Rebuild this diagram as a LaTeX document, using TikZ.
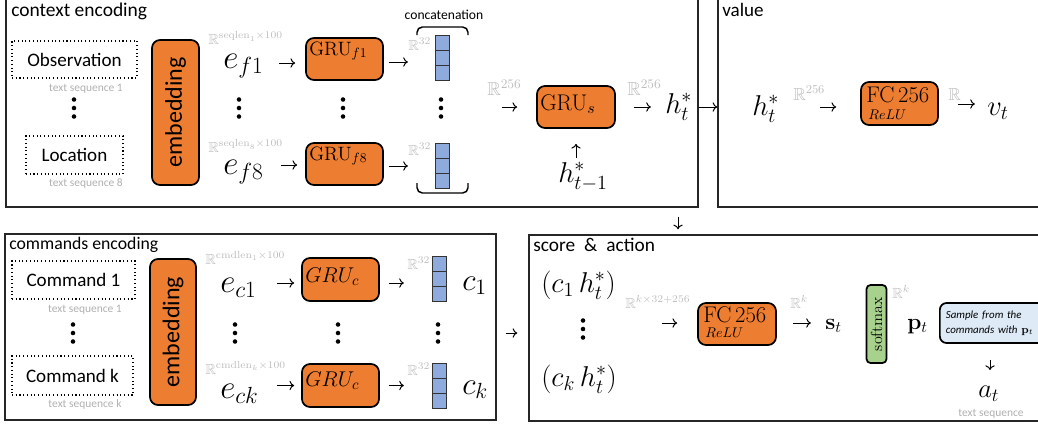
\RequirePackage{fix-cm}
\documentclass[tikz,border=0pt]{standalone}
\usepackage[no-math]{fontspec}
\usepackage{amsmath,amssymb}
\newfontfamily\cali{Carlito}
\usetikzlibrary{arrows.meta}
\definecolor{orng}{HTML}{ED7D31}
\definecolor{cellblue}{HTML}{8FAADC}
\definecolor{smgreen}{HTML}{A9D18E}
\definecolor{sampblue}{HTML}{DEEBF7}
\definecolor{lgray}{HTML}{BDBDBD}
\definecolor{tgray}{HTML}{B0B0B0}
\begin{document}
\begin{tikzpicture}[x=0.75pt,y=-0.75pt,
  panel/.style={draw=black!85, line width=1.1pt, inner sep=0pt},
  ttl/.style={anchor=base west, inner sep=0pt, font=\cali\fontsize{14.5}{17}\selectfont},
  dotbox/.style={draw, dotted, line width=0.8pt, inner sep=0pt, font=\cali\fontsize{14.3}{17}\selectfont},
  seqlab/.style={anchor=base, inner sep=0pt, text=tgray, font=\cali\fontsize{8.6}{10}\selectfont},
  orbox/.style={draw, fill=orng, rounded corners=6pt, line width=1.3pt, inner sep=0pt},
  embtxt/.style={font=\cali\fontsize{18}{21}\selectfont},
  mth/.style={anchor=base west, inner sep=0pt, font=\fontsize{21.5}{26}\selectfont},
  emth/.style={anchor=base west, inner sep=0pt, font=\fontsize{25}{29}\selectfont},
  glab/.style={anchor=base west, inner sep=0pt, font=\fontsize{14.5}{17}\selectfont},
  rr/.style={anchor=base west, inner sep=0pt, text=lgray, font=\fontsize{11}{13}\selectfont},
  rrb/.style={anchor=base west, inner sep=0pt, text=lgray, font=\fontsize{14}{16}\selectfont},
  cell/.style={draw=black!80, fill=cellblue, line width=0.7pt, minimum width=10.5pt, minimum height=11.25pt, inner sep=0pt},
  arr/.style={-{To[length=3.5pt,width=7pt]}, line width=0.75pt},
  brk/.style={line width=1.1pt, rounded corners=4pt}
]
\useasboundingbox (0,0) rectangle (1038,426);
\clip (0,0) rectangle (1038,426);

% ---------- panels ----------
\node[panel, minimum width=519pt, minimum height=159pt] (ctx) at (352,101) {};
\node[panel, minimum width=256.5pt, minimum height=159pt] (val) at (889,101) {};
\node[panel, minimum width=368.25pt, minimum height=139.5pt] (cmd) at (250.5,327) {};
\node[panel, minimum width=398.25pt, minimum height=139.5pt] (sc) at (794.5,328) {};

\node[ttl, font=\cali\fontsize{14.6}{17}\selectfont] (tctx) at (11,16.5) {context encoding};
\node[ttl, font=\cali\fontsize{14.3}{17}\selectfont] (tval) at (722,16.5) {value};
\node[ttl, font=\cali\fontsize{13.3}{16}\selectfont] (tcmd) at (9,249) {commands encoding};
\node[ttl] (tsc) at (533,251) {score\hspace{3.5pt} \&\hspace{3.5pt} action};

% ---------- context encoding ----------
\node[dotbox, minimum width=93.75pt, minimum height=27.75pt] (obs) at (74.5,59.5) {Observation};
\node[seqlab] (ts1) at (86,91) {text sequence 1};
\node[dotbox, minimum width=72.75pt, minimum height=28.5pt] (loc) at (74.5,155) {Location};
\node[seqlab] (ts8) at (86,186) {text sequence 8};
\node[orbox, rotate=90, minimum width=108.75pt, minimum height=35.25pt, embtxt] (emb1) at (175.5,112.5) {embedding};

\node[rr] (rf1) at (208,44) {$\mathbb{R}^{\mathrm{seqlen}_1\times 100}$};
\node[emth] (ef1) at (223,68) {$e_{f1}$};
\node[rr] (rf8) at (208,152) {$\mathbb{R}^{\mathrm{seqlen}_8\times 100}$};
\node[emth] (ef8) at (223,174) {$e_{f8}$};

\node[orbox, minimum width=57.75pt, minimum height=31.5pt] (gf1) at (344.5,59) {};
\node[glab] (lgf1) at (309,55) {$\mathrm{GRU}_{f1}$};
\node[orbox, minimum width=57.75pt, minimum height=31.5pt] (gf8) at (344.5,164) {};
\node[glab] (lgf8) at (309,160) {$\mathrm{GRU}_{f8}$};
\draw[arr] ([shift={(-26,4)}]gf1.west) -- ([shift={(-10,4)}]gf1.west);
\draw[arr] ([shift={(-24,1)}]gf8.west) -- ([shift={(-8,1)}]gf8.west);
\draw[arr] ([shift={(5,3)}]gf1.east) -- ([shift={(24,3)}]gf1.east);
\draw[arr] ([shift={(5,2)}]gf8.east) -- ([shift={(24,2)}]gf8.east);

\node[rr] (r32a) at (408,50) {$\mathbb{R}^{32}$};
\node[rr] (r32b) at (408,155) {$\mathbb{R}^{32}$};
\node[cell] (va1) at (442,42.5) {};
\node[cell] (va2) at (442,57.5) {};
\node[cell] (va3) at (442,72.5) {};
\node[cell] (vb1) at (442,150.5) {};
\node[cell] (vb2) at (442,165.5) {};
\node[cell] (vb3) at (442,180.5) {};
\draw[brk] (417,35) -- (417,27) -- (468,27) -- (468,35);
\draw[brk] (417,183) -- (417,193) -- (468,193) -- (468,183);
\node[anchor=base, inner sep=0pt, font=\cali\fontsize{10.2}{12}\selectfont] (conc) at (444,19.5) {concatenation};

\foreach \x in {74,239,343,441} {
  \fill (\x,99.5) circle[radius=1.7pt];
  \fill (\x,108) circle[radius=1.7pt];
  \fill (\x,116.5) circle[radius=1.7pt];
}

\node[rrb] (r256a) at (487,95) {$\mathbb{R}^{256}$};
\node[orbox, minimum width=58.5pt, minimum height=31.5pt] (gs) at (576,107) {};
\node[glab, font=\fontsize{17}{20}\selectfont] (lgs) at (540,110) {$\mathrm{GRU}_s$};
\draw[arr] ([shift={(-34,0)}]gs.west) -- ([shift={(-19,0)}]gs.west);
\node[rrb] (r256b) at (627,95) {$\mathbb{R}^{256}$};
\draw[arr] ([shift={(18,0)}]gs.east) -- ([shift={(35,0)}]gs.east);
\node[mth] (hst) at (665,113) {$h_t^*$};
\node[mth] (hprev) at (558,182) {$h_{t-1}^*$};
\draw[arr] ([shift={(0,29)}]gs.south) -- ([shift={(0,15)}]gs.south);

\draw[arr] (ctx.east |- gs.center) -- (val.west |- gs.center);
\draw[arr] ([shift={(326,9)}]ctx.south) -- ([shift={(-116.5,-5)}]sc.north);

% ---------- value ----------
\node[mth] (hv) at (752,115) {$h_t^*$};
\node[rrb, font=\fontsize{13}{15}\selectfont] (r256v) at (793,100) {$\mathbb{R}^{256}$};
\node[orbox, minimum width=57.75pt, minimum height=32.25pt] (fcv) at (899.5,103.5) {};
\node[glab, font=\fontsize{17}{20}\selectfont] (lfcv) at (866,102) {$\mathrm{FC}\,256$};
\node[glab, font=\fontsize{10.5}{12}\selectfont] (rlv) at (868,119) {$ReLU$};
\draw[arr] ([shift={(-40,3.5)}]fcv.west) -- ([shift={(-24,3.5)}]fcv.west);
\node[rrb, font=\fontsize{13}{15}\selectfont] (rv) at (948,100) {$\mathbb{R}$};
\draw[arr] ([shift={(19,0.5)}]fcv.east) -- ([shift={(36,0.5)}]fcv.east);
\node[mth] (vt) at (987,115) {$v_t$};

% ---------- commands encoding ----------
\node[dotbox, minimum width=92.25pt, minimum height=28.5pt] (cm1) at (73.5,280) {Command 1};
\node[seqlab] (tc1) at (85,312) {text sequence 1};
\node[dotbox, minimum width=90.75pt, minimum height=29.25pt] (cmk) at (72.5,375.5) {Command k};
\node[seqlab] (tck) at (85,407) {text sequence k};
\node[orbox, rotate=90, minimum width=109.5pt, minimum height=34.5pt, embtxt] (emb2) at (173,332) {embedding};

\node[rr] (rc1) at (205,264) {$\mathbb{R}^{\mathrm{cmdlen}_1\times 100}$};
\node[emth] (ec1) at (220,292) {$e_{c1}$};
\node[rr] (rck) at (205,374) {$\mathbb{R}^{\mathrm{cmdlen}_k\times 100}$};
\node[emth] (eck) at (220,398) {$e_{ck}$};

\node[orbox, minimum width=57.75pt, minimum height=32.25pt] (gc1) at (340.5,279.5) {};
\node[glab, font=\fontsize{16}{19}\selectfont] (lgc1) at (305,282) {$GRU_c$};
\node[orbox, minimum width=57.75pt, minimum height=32.25pt] (gck) at (340.5,385.5) {};
\node[glab, font=\fontsize{16}{19}\selectfont] (lgck) at (305,386) {$GRU_c$};
\draw[arr] ([shift={(-24,3.5)}]gc1.west) -- ([shift={(-7,3.5)}]gc1.west);
\draw[arr] ([shift={(-24,0)}]gck.west) -- ([shift={(-7,0)}]gck.west);
\draw[arr] ([shift={(9,3.5)}]gc1.east) -- ([shift={(24,3.5)}]gc1.east);
\draw[arr] ([shift={(9,0)}]gck.east) -- ([shift={(24,0)}]gck.east);

\node[rr] (r32c) at (407,269) {$\mathbb{R}^{32}$};
\node[rr] (r32d) at (407,375) {$\mathbb{R}^{32}$};
\node[cell] (vc1) at (439.5,263.5) {};
\node[cell] (vc2) at (439.5,278.5) {};
\node[cell] (vc3) at (439.5,293.5) {};
\node[cell] (vd1) at (439.5,370.5) {};
\node[cell] (vd2) at (439.5,385.5) {};
\node[cell] (vd3) at (439.5,400.5) {};
\node[mth, font=\fontsize{23.5}{28}\selectfont] (c1) at (462,290) {$c_1$};
\node[mth, font=\fontsize{23.5}{28}\selectfont] (ck) at (462,394) {$c_k$};

\foreach \x in {73,235,338,438} {
  \fill (\x,324.5) circle[radius=1.7pt];
  \fill (\x,333) circle[radius=1.7pt];
  \fill (\x,341.5) circle[radius=1.7pt];
}
\draw[arr] ([shift={(9,6)}]cmd.east) -- ([shift={(-11,5)}]sc.west);

% ---------- score & action ----------
\node[mth] (pc1) at (541,292) {$(c_1\,h_t^*)$};
\node[mth] (pck) at (541,386) {$(c_k\,h_t^*)$};
\fill (583,320.5) circle[radius=1.7pt];
\fill (583,329) circle[radius=1.7pt];
\fill (583,337.5) circle[radius=1.7pt];

\node[rr] (rk1) at (625,308) {$\mathbb{R}^{k\times 32+256}$};
\node[orbox, minimum width=58.5pt, minimum height=31.5pt] (fcs) at (737,324) {};
\node[glab, font=\fontsize{17}{20}\selectfont] (lfcs) at (703,322) {$\mathrm{FC}\,256$};
\node[glab, font=\fontsize{10.5}{12}\selectfont] (rls) at (705,337) {$ReLU$};
\draw[arr] ([shift={(-35,-1)}]fcs.west) -- ([shift={(-20,-1)}]fcs.west);
\node[rr] (rk2) at (790,308) {$\mathbb{R}^{k}$};
\draw[arr] ([shift={(16,-1)}]fcs.east) -- ([shift={(34,-1)}]fcs.east);
\node[mth, font=\fontsize{17}{20}\selectfont] (st) at (825,329) {$\mathbf{s}_t$};
\node[draw, fill=smgreen, rounded corners=3pt, line width=1.3pt, inner sep=0pt, rotate=90, minimum width=58.5pt, minimum height=15pt, font=\fontsize{12}{14}\selectfont] (smx) at (876.5,324) {softmax};
\node[rr] (rk3) at (892,298) {$\mathbb{R}^{k}$};
\node[mth, font=\fontsize{17}{20}\selectfont] (pt) at (907,329) {$\mathbf{p}_t$};
\node[draw, fill=sampblue, rounded corners=5pt, line width=1.3pt, inner xsep=4.5pt, inner ysep=0pt, minimum height=30pt, text width=85pt, align=left, anchor=west, font=\cali\itshape\fontsize{8.2}{11}\selectfont] (smp) at (939,323) {Sample from the\\commands with $\mathbf{p}_t$};
\draw[arr] ([shift={(51,37)}]smp.west) -- ([shift={(51,47)}]smp.west);
\node[mth, font=\fontsize{20}{24}\selectfont] (at) at (978,397) {$a_t$};
\node[seqlab] (tsa) at (991,416) {text sequence};
\end{tikzpicture}
\end{document}
